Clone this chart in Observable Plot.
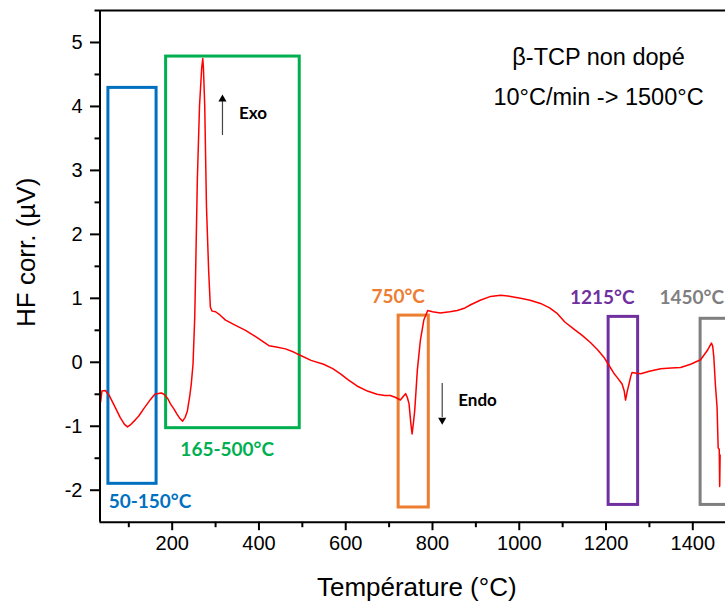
<!DOCTYPE html>
<html>
<head>
<meta charset="utf-8">
<script src="https://cdn.jsdelivr.net/npm/d3@7"></script>
<script src="https://cdn.jsdelivr.net/npm/@observablehq/plot@0.6"></script>
<style>
  body { margin: 0; background: #fff; }
  svg { display: block; }
</style>
</head>
<body>
<div id="chart"></div>
<script>
// ---- Data ----
const temperatures = [35,38,46,55,69,80,90,97,105,115,123,135,150,160,165,175,181,190,196,205,211,218,224,230,235,240,244,248,252,254,258,263,268,270.5,272,275,279,284,288,292,300,310,323,345,369,395,423,440,461,480,495,520,549,570,588,605,626,650,672,690,703,715,726,733,738,742,746,750,753,756,759,762,765,772,780,789,800,818,840,857,875,888,910,934,957,980,1003,1025,1049,1070,1088,1105,1126,1145,1164,1180,1195,1207,1218,1226,1237,1242,1245,1249,1253,1257,1260,1270,1280,1300,1326,1350,1372,1395,1418,1433,1443,1446,1448.5,1452,1456,1458.5,1461,1462,1463];
const hfValues = [-0.62,-0.45,-0.44,-0.52,-0.71,-0.86,-0.97,-1.01,-0.97,-0.90,-0.84,-0.72,-0.58,-0.50,-0.49,-0.48,-0.50,-0.57,-0.65,-0.74,-0.81,-0.88,-0.92,-0.86,-0.76,-0.55,-0.34,-0.03,0.71,1.39,2.86,4.01,4.60,4.75,4.60,4.01,2.44,1.44,0.86,0.80,0.79,0.74,0.66,0.58,0.50,0.39,0.26,0.24,0.21,0.16,0.11,0.03,-0.03,-0.10,-0.18,-0.27,-0.37,-0.45,-0.50,-0.52,-0.52,-0.55,-0.59,-0.53,-0.49,-0.55,-0.65,-0.95,-1.12,-0.95,-0.76,-0.45,-0.13,0.34,0.66,0.81,0.79,0.77,0.79,0.81,0.85,0.90,0.97,1.03,1.05,1.03,1.00,0.97,0.92,0.85,0.76,0.63,0.52,0.42,0.31,0.20,0.08,-0.05,-0.17,-0.24,-0.34,-0.45,-0.59,-0.45,-0.34,-0.22,-0.16,-0.17,-0.18,-0.14,-0.10,-0.09,-0.08,-0.03,0.04,0.18,0.30,0.25,0.08,-0.34,-0.71,-1.34,-1.36,-1.94,-1.45];

// Highlight boxes
const boxLabels = ["50-150°C", "165-500°C", "750°C", "1215°C", "1450°C"];
const boxColors = ["#0070C0", "#00B050", "#ED7D31", "#7030A0", "#7F7F7F"];
const boxStart  = [53, 186, 722, 1206, 1418];
const boxEnd    = [164, 494, 791.5, 1274, 1500];
const boxBottom = [-1.90, -1.03, -2.27, -2.23, -2.23];
const boxTop    = [4.29, 4.78, 0.73, 0.71, 0.68];
const boxLabelX = [148.8, 326.8, 720.9, 1191.2, 1397.5];
const boxLabelY = [-2.19, -1.376, 1.016, 1.01, 1.01];

// Exo / Endo annotations
const noteTexts = ["Exo", "Endo"];
const noteX = [386.3, 903.8];
const noteY = [3.89, -0.60];
const arrowX = [315.9, 822.4];
const arrowFrom = [3.545, -0.333];
const arrowTo = [4.075, -0.865];
const arrowHeadY = [4.115, -0.904];
const arrowRotate = [0, 180];

// Title block
const titleLines = ["β-TCP non dopé", "10°C/min -> 1500°C"];
const titleX = [1182.7, 1182.7];
const titleY = [4.655, 4.03];

// Axis ticks
const xMajorTicks = [200, 400, 600, 800, 1000, 1200, 1400];
const xMinorTicks = [100, 300, 500, 700, 900, 1100, 1300];
const yMajorTicks = [-2, -1, 0, 1, 2, 3, 4, 5];
const yMinorTicks = [-1.5, -0.5, 0.5, 1.5, 2.5, 3.5, 4.5, 5.5];

const xDomain = [33.6, 1475.4];
const yDomain = [-2.5, 5.5];

// ---- Tables built from the arrays ----
const curve = temperatures.map((t, i) => ({t, v: hfValues[i]}));
const boxes = boxLabels.map((label, i) => ({
  label, color: boxColors[i], x1: boxStart[i], x2: boxEnd[i], y1: boxBottom[i], y2: boxTop[i],
  lx: boxLabelX[i], ly: boxLabelY[i]
}));
const notes = noteTexts.map((text, i) => ({
  text, x: noteX[i], y: noteY[i], ax: arrowX[i], a1: arrowFrom[i], a2: arrowTo[i], hy: arrowHeadY[i], rot: arrowRotate[i]
}));
const titles = titleLines.map((text, i) => ({text, x: titleX[i], y: titleY[i]}));

const labelFont = "Lato, 'Open Sans', sans-serif";

const chart = Plot.plot({
  width: 725,
  height: 605,
  marginTop: 10,
  marginBottom: 83.3,
  marginLeft: 99.5,
  marginRight: 0,
  style: {fontFamily: "'Liberation Sans', Arial, sans-serif", background: "white", color: "black", overflow: "visible"},
  x: {domain: xDomain, label: null},
  y: {domain: yDomain, label: null},
  color: {type: "identity"},
  marks: [
    // boxes
    Plot.rect(boxes, {x1: "x1", x2: "x2", y1: "y1", y2: "y2", stroke: "color", fill: "none", strokeWidth: 3, clip: true}),
    // curve
    Plot.line(curve, {x: "t", y: "v", stroke: "#ff0000", strokeWidth: 1.5, clip: true}),
    // box labels
    Plot.text(boxes, {x: "lx", y: "ly", text: "label", fill: "color", fontFamily: labelFont, fontWeight: "bold", fontSize: 19, lineAnchor: "middle", textAnchor: "middle"}),
    // exo/endo
    Plot.ruleX(notes, {x: "ax", y1: "a1", y2: "a2", stroke: "#444", strokeWidth: 1.2}),
    Plot.dot(notes, {x: "ax", y: "hy", symbol: "triangle", r: 3, fill: "black", stroke: "none", rotate: "rot"}),
    Plot.text(notes, {x: "x", y: "y", text: "text", fontFamily: labelFont, fontWeight: "bold", fontSize: 17, fill: "black", lineAnchor: "middle", textAnchor: "middle"}),
    // title
    Plot.text(titles, {x: "x", y: "y", text: "text", fontSize: 23.5, fill: "black", lineAnchor: "bottom", textAnchor: "middle"}),
    // axes
    Plot.axisX({ticks: xMinorTicks, tickSize: 5.5, strokeWidth: 2, tickFormat: () => "", label: null}),
    Plot.axisX({ticks: xMajorTicks, tickSize: 8.5, tickPadding: 5, strokeWidth: 2, fontSize: 20, tickFormat: d => String(d), label: null}),
    Plot.axisY({ticks: yMinorTicks, tickSize: 5, strokeWidth: 2, tickFormat: () => "", label: null}),
    Plot.axisY({ticks: yMajorTicks, tickSize: 9.5, tickPadding: 8, strokeWidth: 2, fontSize: 20, tickFormat: d => String(d), label: null}),
    // frame lines
    Plot.ruleX([xDomain[0]], {stroke: "black", strokeWidth: 2}),
    Plot.ruleY([yDomain[0]], {stroke: "black", strokeWidth: 2}),
    Plot.ruleY([yDomain[1]], {stroke: "black", strokeWidth: 2}),
    // axis titles
    Plot.text(["HF corr. (µV)"], {frameAnchor: "left", rotate: -90, dx: -65.5, dy: -14, fontSize: 26, fill: "black", lineAnchor: "bottom", textAnchor: "middle"}),
    Plot.text(["Température (°C)"], {frameAnchor: "bottom", dx: 4, dy: 73.3, fontSize: 26, fill: "black", lineAnchor: "bottom", textAnchor: "middle"})
  ]
});

document.getElementById("chart").appendChild(chart);
</script>
</body>
</html>
